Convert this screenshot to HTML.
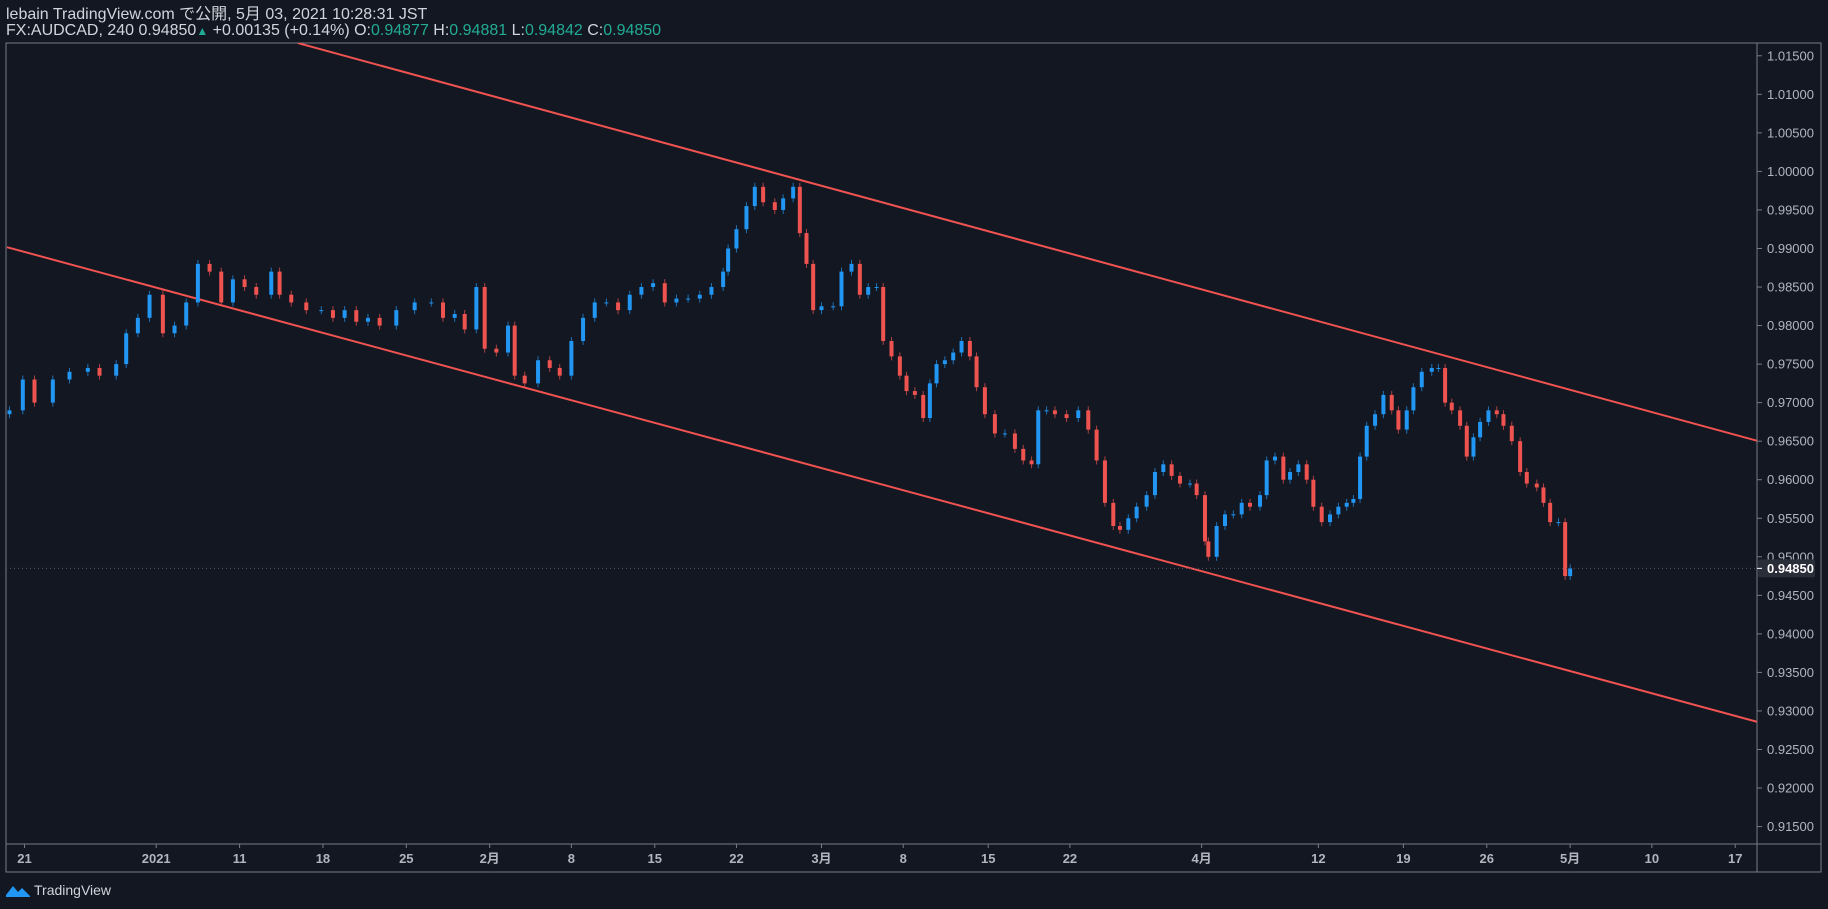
<!DOCTYPE html>
<html><head><meta charset="utf-8">
<style>
html,body{margin:0;padding:0;background:#131722;}
body{width:1828px;height:909px;overflow:hidden;position:relative;font-family:"Liberation Sans","Noto Sans CJK JP",sans-serif;}
.hdr{position:absolute;left:6px;color:#d1d4dc;font-size:16px;line-height:18px;white-space:nowrap;}
.g{color:#22ab94;}
</style></head>
<body>
<div class="hdr" style="top:6px">lebain TradingView.com で公開, 5月 03, 2021 10:28:31 JST</div>
<div class="hdr" style="top:22px">FX:AUDCAD, 240 0.94850<span class="g" style="font-size:12px">▲</span> +0.00135 (+0.14%) O:<span class="g">0.94877</span> H:<span class="g">0.94881</span> L:<span class="g">0.94842</span> C:<span class="g">0.94850</span></div>
<svg id="chart" width="1828" height="909" style="position:absolute;left:0;top:0"></svg>
<script>
const times=[-0.9,-0.1,0.6,1.7,2.7,3.8,4.5,5.5,6.1,6.8,7.5,8.3,9.0,9.7,10.4,11.1,11.8,12.5,13.2,13.9,14.8,15.3,16.0,16.9,17.8,18.5,19.2,19.9,20.6,21.3,22.3,23.4,24.4,25.1,25.8,26.4,27.1,27.6,28.3,29.0,29.4,30.0,30.8,31.5,32.1,32.8,33.5,34.2,34.9,35.6,36.3,37.0,37.7,38.4,39.1,39.8,40.5,41.2,41.9,42.2,42.7,43.3,43.8,44.3,45.0,45.5,46.1,46.5,46.9,47.3,47.8,48.5,49.0,49.6,50.1,50.6,51.1,51.5,52.0,52.5,52.9,53.4,53.9,54.3,54.7,55.2,55.7,56.2,56.7,57.1,57.6,58.2,58.8,59.4,59.9,60.4,60.8,61.3,61.8,62.5,63.2,63.8,64.3,64.8,65.3,65.7,66.2,66.7,67.3,67.8,68.3,68.8,69.3,69.9,70.3,70.8,71.0,71.5,72.0,72.5,73.0,73.5,74.1,74.5,75.0,75.5,75.9,76.4,76.9,77.3,77.8,78.3,78.8,79.3,79.7,80.1,80.5,81.0,81.5,82.0,82.4,82.9,83.3,83.8,84.4,84.8,85.2,85.6,86.1,86.5,86.9,87.3,87.8,88.3,88.7,89.2,89.7,90.1,90.7,91.1,91.5,92.0,92.4,92.7];
const closes=[0.969,0.973,0.970,0.973,0.974,0.9745,0.9735,0.975,0.979,0.981,0.984,0.979,0.980,0.983,0.988,0.987,0.983,0.986,0.985,0.984,0.987,0.984,0.983,0.982,0.982,0.981,0.982,0.9805,0.981,0.980,0.982,0.983,0.983,0.981,0.9815,0.9795,0.985,0.977,0.9765,0.980,0.9735,0.9725,0.9755,0.9745,0.9735,0.978,0.981,0.983,0.983,0.982,0.984,0.985,0.9855,0.983,0.9835,0.9835,0.984,0.985,0.987,0.990,0.9925,0.9955,0.998,0.996,0.995,0.9965,0.998,0.992,0.988,0.982,0.9825,0.9825,0.987,0.988,0.984,0.985,0.985,0.978,0.976,0.9735,0.9715,0.971,0.968,0.9725,0.975,0.9755,0.9765,0.978,0.976,0.972,0.9685,0.966,0.966,0.964,0.9625,0.962,0.969,0.969,0.9685,0.968,0.969,0.9665,0.9625,0.957,0.954,0.9535,0.955,0.9565,0.958,0.961,0.962,0.9605,0.9595,0.9595,0.958,0.952,0.950,0.954,0.9555,0.9555,0.957,0.9565,0.958,0.9625,0.963,0.960,0.961,0.962,0.960,0.9565,0.9545,0.9555,0.9565,0.957,0.9575,0.963,0.967,0.9685,0.971,0.969,0.9665,0.969,0.972,0.974,0.9745,0.9745,0.970,0.969,0.967,0.963,0.9655,0.9675,0.969,0.9685,0.967,0.965,0.961,0.9595,0.959,0.957,0.9545,0.9545,0.9475,0.9485];
const firstOpen=0.9685;
const priceTicks=[1.015,1.010,1.005,1.000,0.995,0.990,0.985,0.980,0.975,0.970,0.965,0.960,0.955,0.950,0.945,0.940,0.935,0.930,0.925,0.920,0.915];
const timeLabels=["21","2021","11","18","25","2月","8","15","22","3月","8","15","22","4月","12","19","26","5月","10","17"];
const timeDays=[0,7.9,12.9,17.9,22.9,27.9,32.8,37.8,42.7,47.8,52.7,57.8,62.7,70.6,77.6,82.7,87.7,92.7,97.6,102.6];
const channelUpper=[[16.4,1.01665],[103.9,0.96506]];
const channelLower=[[-1.05,0.99017],[103.9,0.92860]];
const lastPrice=0.9485;

const NS="http://www.w3.org/2000/svg";
const svg=document.getElementById('chart');
const L=6,R=1757,T=43,B=844;
const y=p=>171.4+(1.0-p)/0.005*38.54;
const xd=d=>(21+d*14.3)*1.166;
function mk(t,a){const e=document.createElementNS(NS,t);for(const k in a)e.setAttribute(k,a[k]);svg.appendChild(e);return e;}
const defs=mk('defs',{});defs.innerHTML='<clipPath id="clp"><rect x="'+L+'" y="'+T+'" width="'+(R-L)+'" height="'+(B-T)+'"/></clipPath>';
const frame=mk('rect',{x:L,y:T,width:1821-L,height:872-T,fill:'none',stroke:'#787b86','stroke-width':1});


mk('line',{x1:R,y1:T,x2:R,y2:872,stroke:'#787b86'});
mk('line',{x1:L,y1:B,x2:1821,y2:B,stroke:'#787b86'});
priceTicks.forEach(p=>{
  mk('line',{x1:R,y1:y(p),x2:R+5,y2:y(p),stroke:'#787b86'});
  const t=mk('text',{x:R+10,y:y(p)+4.5,fill:'#b2b5be','font-size':13,'font-family':'Liberation Sans, sans-serif'});
  t.textContent=p.toFixed(5);
  
  
});
timeLabels.forEach((s,i)=>{
  const xx=xd(timeDays[i]);
  mk('line',{x1:xx,y1:B,x2:xx,y2:B+4,stroke:'#787b86'});
  const t=mk('text',{x:xx,y:863,fill:'#b2b5be','font-size':13,'font-weight':'bold','text-anchor':'middle','font-family':'Liberation Sans, Noto Sans CJK JP, sans-serif'});
  t.textContent=s;
  
  
});
[channelUpper,channelLower].forEach((c,k)=>{
  const l=mk('line',{x1:xd(c[0][0]),y1:y(c[0][1]),x2:xd(c[1][0]),y2:y(c[1][1]),stroke:'#f05350','stroke-width':2,'clip-path':'url(#clp)'});
  
  
});
let prev=firstOpen;
closes.forEach((c,i)=>{
  const o=prev, up=c>=o, col=up?'#2196f3':'#ef5350';
  const top=y(Math.max(o,c)), bot=y(Math.min(o,c));
  const xx=xd(times[i]);
  mk('line',{x1:xx,y1:top-4,x2:xx,y2:bot+4,stroke:col,'stroke-width':1,opacity:0.7});
  const r=mk('rect',{x:xx-2,y:top,width:4,height:Math.max(1,bot-top),fill:col});
  
  
  prev=c;
});
mk('line',{x1:L,y1:y(lastPrice),x2:R,y2:y(lastPrice),stroke:'#555a66','stroke-dasharray':'1,3'});
const lb=mk('rect',{x:R+1,y:y(lastPrice)-9,width:57,height:18,rx:2,fill:'#2a2e39'});


mk('line',{x1:R,y1:y(lastPrice),x2:R+5,y2:y(lastPrice),stroke:'#fff'});
const lt=mk('text',{x:R+10,y:y(lastPrice)+4.5,fill:'#fff','font-size':13,'font-weight':'bold','font-family':'Liberation Sans, sans-serif'});
lt.textContent=lastPrice.toFixed(5);
</script>
<div style="position:absolute;left:6px;top:882px;display:flex;align-items:center;color:#d1d4dc;font-size:14px;">
<svg width="24" height="14" viewBox="0 0 24 14"><path d="M0 12 L7 3 L12 9 L16 5 L24 13 L24 14 L0 14Z" fill="#2196f3"/></svg><span style="margin-left:4px">TradingView</span></div>
</body></html>
